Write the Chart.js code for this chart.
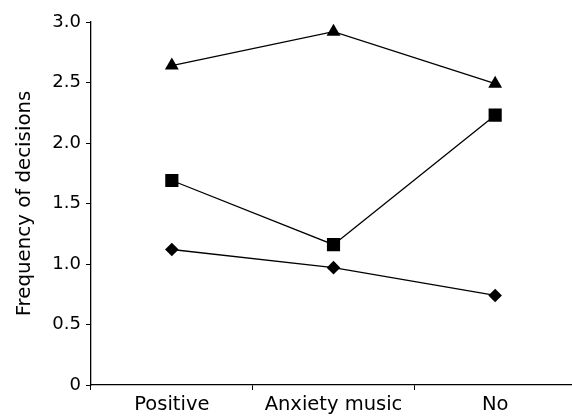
<!DOCTYPE html>
<html>
<head>
<meta charset="utf-8">
<script src="https://cdn.jsdelivr.net/npm/chart.js@4"></script>
<style>
html,body{margin:0;padding:0;background:#fff;overflow:hidden;}
#wrap{width:572px;height:416px;position:relative;overflow:hidden;}
</style>
</head>
<body>
<div id="wrap"><canvas id="c" width="576" height="416"></canvas></div>
<script>
const categories = ['Positive', 'Anxiety music', 'No'];
const triangleSeries = [2.64, 2.92, 2.49];
const squareSeries = [1.69, 1.16, 2.23];
const diamondSeries = [1.12, 0.97, 0.74];
const yTickLabels = ['0', '0.5', '1.0', '1.5', '2.0', '2.5', '3.0'];
const yTitle = 'Frequency of decisions';

const FONT = "'DejaVu Sans', 'Liberation Sans', Arial, sans-serif";

function ds(data, style, radius) {
  return {
    data: data,
    borderColor: '#000',
    backgroundColor: '#000',
    borderWidth: 1.3,
    pointStyle: style,
    pointRadius: radius,
    pointHoverRadius: radius,
    pointBackgroundColor: '#000',
    pointBorderColor: '#000',
    pointBorderWidth: 0,
    tension: 0,
    fill: false
  };
}

new Chart(document.getElementById('c'), {
  type: 'line',
  data: {
    labels: categories,
    datasets: [
      ds(triangleSeries, 'triangle', 8),
      ds(squareSeries, 'rect', 9.3),
      ds(diamondSeries, 'rectRot', 6.8)
    ]
  },
  options: {
    responsive: false,
    animation: false,
    devicePixelRatio: 1,
    layout: { autoPadding: false, padding: { top: 22, right: 0, bottom: 0, left: 13 } },
    plugins: { legend: { display: false }, tooltip: { enabled: false } },
    scales: {
      x: {
        type: 'category',
        offset: true,
        grid: { offset: true, drawOnChartArea: false, drawTicks: true, tickLength: 5, color: '#000', lineWidth: 1 },
        border: { display: true, color: '#000', width: 1.3 },
        ticks: { color: '#000', font: { family: FONT, size: 19.5 }, padding: 3.5, maxRotation: 0, autoSkip: false },
        afterFit: function(scale) { scale.height = 31; scale.paddingRight = 0; scale.paddingLeft = 0; }
      },
      y: {
        min: 0,
        max: 3,
        grid: { drawOnChartArea: false, drawTicks: true, tickLength: 5, color: '#000', lineWidth: 1 },
        border: { display: true, color: '#000', width: 1.3 },
        ticks: {
          stepSize: 0.5,
          color: '#000',
          font: { family: FONT, size: 18 },
          padding: 5,
          callback: function(v, i) { return yTickLabels[i]; }
        },
        title: { display: true, text: yTitle, color: '#000', font: { family: FONT, size: 19.8 }, padding: { top: 0, bottom: 6 } },
        afterFit: function(scale) { scale.width = 78; }
      }
    }
  }
});
</script>
</body>
</html>
